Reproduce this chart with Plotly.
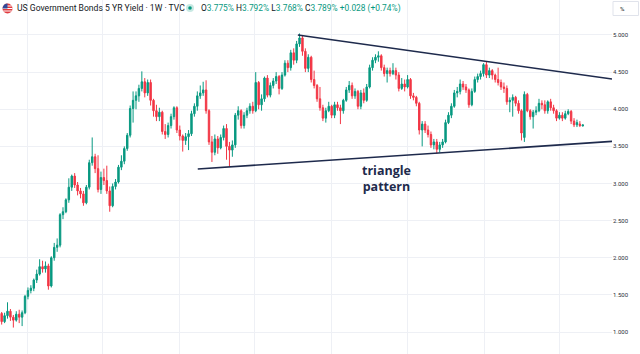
import plotly.graph_objects as go
import pandas as pd

# ---------------- data (weekly candles, US 5Y yield, %) ----------------
start_week = "2021-11-01"
n_weeks = 200

opens = [1.25, 1.14, 1.22, 1.28, 1.20, 1.16, 1.24, 1.20, 1.26, 1.48,
         1.56, 1.59, 1.70, 1.78, 1.88, 1.85, 1.89, 1.62, 2.00, 2.14,
         2.17, 2.58, 2.62, 2.78, 2.95, 3.10, 2.98, 2.90, 2.86, 2.74,
         2.95, 3.28, 3.36, 3.20, 2.92, 3.08, 3.04, 2.90, 2.70, 2.96,
         3.02, 3.22, 3.30, 3.47, 3.65, 4.01, 4.12, 4.18, 4.28, 4.37,
         4.22, 4.36, 4.12, 3.98, 3.90, 3.96, 3.70, 3.66, 3.78, 3.90,
         4.02, 3.72, 3.64, 3.58, 3.63, 3.67, 3.94, 4.04, 4.18, 4.22,
         4.26, 3.98, 3.56, 3.42, 3.60, 3.48, 3.62, 3.74, 3.50, 3.45,
         3.52, 3.92, 3.98, 3.78, 3.92, 3.98, 4.04, 3.98, 4.36, 4.06,
         4.14, 4.42, 4.19, 4.32, 4.38, 4.44, 4.28, 4.46, 4.62, 4.56,
         4.76, 4.66, 4.88, 4.96, 4.78, 4.55, 4.70, 4.40, 4.32, 4.14,
         4.02, 3.88, 3.98, 4.04, 3.92, 4.06, 4.02, 3.98, 4.12, 4.26,
         4.32, 4.18, 4.24, 4.04, 4.22, 4.12, 4.30, 4.56, 4.66, 4.70,
         4.72, 4.56, 4.48, 4.52, 4.48, 4.52, 4.46, 4.28, 4.34, 4.30,
         4.40, 4.18, 4.16, 4.08, 3.72, 3.80, 3.72, 3.66, 3.52, 3.56,
         3.46, 3.52, 3.56, 3.82, 3.92, 4.04, 4.22, 4.24, 4.34, 4.30,
         4.26, 4.06, 4.24, 4.40, 4.44, 4.48, 4.60, 4.46, 4.52, 4.46,
         4.40, 4.36, 4.30, 4.28, 4.10, 4.12, 4.16, 4.08, 3.98, 3.62,
         4.20, 3.98, 3.90, 3.96, 3.98, 4.08, 4.06, 3.98, 4.10, 4.02,
         3.98, 3.88, 3.92, 3.88, 3.94, 3.97, 3.84, 3.79, 3.80, 3.775]

highs = [1.27, 1.26, 1.40, 1.31, 1.23, 1.28, 1.30, 1.29, 1.50, 1.60,
         1.63, 1.72, 1.84, 1.98, 1.96, 1.95, 1.92, 2.02, 2.20, 2.26,
         2.60, 2.68, 2.80, 3.07, 3.12, 3.14, 3.02, 2.94, 2.90, 2.98,
         3.32, 3.62, 3.40, 3.38, 3.16, 3.20, 3.24, 2.96, 3.00, 3.06,
         3.25, 3.38, 3.50, 3.68, 4.05, 4.24, 4.24, 4.33, 4.51, 4.42,
         4.40, 4.40, 4.14, 4.06, 4.02, 3.98, 3.80, 3.82, 3.94, 4.04,
         4.04, 3.78, 3.66, 3.68, 3.72, 3.98, 4.08, 4.24, 4.32, 4.37,
         4.39, 4.00, 3.64, 3.66, 3.64, 3.66, 3.78, 3.80, 3.56, 3.58,
         3.95, 4.04, 4.00, 3.96, 4.02, 4.08, 4.10, 4.50, 4.38, 4.20,
         4.44, 4.46, 4.36, 4.42, 4.50, 4.46, 4.50, 4.66, 4.66, 4.80,
         4.82, 4.92, 5.02, 4.99, 4.82, 4.74, 4.72, 4.52, 4.34, 4.30,
         4.06, 4.02, 4.10, 4.06, 4.10, 4.10, 4.06, 4.14, 4.30, 4.38,
         4.36, 4.28, 4.26, 4.26, 4.28, 4.34, 4.60, 4.70, 4.74, 4.78,
         4.74, 4.60, 4.56, 4.56, 4.62, 4.56, 4.50, 4.42, 4.40, 4.46,
         4.42, 4.22, 4.18, 4.10, 3.84, 3.84, 3.78, 3.70, 3.60, 3.60,
         3.56, 3.60, 3.86, 3.96, 4.08, 4.26, 4.30, 4.40, 4.38, 4.34,
         4.28, 4.28, 4.44, 4.48, 4.52, 4.62, 4.64, 4.56, 4.54, 4.48,
         4.56, 4.40, 4.36, 4.32, 4.16, 4.20, 4.18, 4.12, 4.00, 4.24,
         4.22, 4.00, 3.99, 4.04, 4.14, 4.12, 4.12, 4.12, 4.14, 4.06,
         4.00, 3.96, 3.96, 3.98, 4.00, 3.99, 3.88, 3.86, 3.84, 3.792]

lows = [1.10, 1.12, 1.18, 1.15, 1.06, 1.14, 1.12, 1.08, 1.24, 1.44,
        1.52, 1.55, 1.66, 1.76, 1.80, 1.80, 1.57, 1.60, 1.96, 2.08,
        2.14, 2.52, 2.60, 2.74, 2.90, 2.94, 2.84, 2.80, 2.70, 2.72,
        2.92, 3.24, 3.14, 2.88, 2.86, 2.98, 2.86, 2.62, 2.68, 2.92,
        3.00, 3.18, 3.26, 3.44, 3.62, 3.82, 4.00, 4.10, 4.24, 4.16,
        4.18, 4.05, 3.90, 3.84, 3.84, 3.66, 3.60, 3.62, 3.74, 3.86,
        3.68, 3.58, 3.43, 3.52, 3.45, 3.64, 3.90, 3.98, 4.14, 4.18,
        3.94, 3.52, 3.29, 3.38, 3.40, 3.46, 3.58, 3.32, 3.23, 3.36,
        3.48, 3.86, 3.74, 3.74, 3.88, 3.94, 3.94, 3.96, 4.00, 3.98,
        4.10, 4.16, 4.16, 4.28, 4.34, 4.20, 4.26, 4.44, 4.50, 4.52,
        4.60, 4.62, 4.84, 4.72, 4.50, 4.50, 4.36, 4.28, 4.10, 3.98,
        3.84, 3.82, 3.96, 3.88, 3.88, 3.98, 3.80, 3.94, 4.10, 4.22,
        4.14, 4.14, 4.00, 4.00, 4.08, 4.10, 4.28, 4.52, 4.62, 4.64,
        4.52, 4.44, 4.36, 4.44, 4.46, 4.40, 4.24, 4.26, 4.24, 4.28,
        4.14, 4.12, 4.04, 3.66, 3.50, 3.68, 3.62, 3.48, 3.46, 3.40,
        3.42, 3.48, 3.54, 3.80, 3.88, 4.02, 4.16, 4.20, 4.26, 4.22,
        4.02, 4.04, 4.22, 4.36, 4.40, 4.44, 4.42, 4.42, 4.40, 4.36,
        4.32, 4.26, 4.22, 4.06, 3.96, 3.90, 4.04, 3.94, 3.58, 3.56,
        3.96, 3.86, 3.74, 3.92, 3.96, 4.00, 3.94, 3.94, 3.98, 3.94,
        3.84, 3.86, 3.84, 3.86, 3.92, 3.80, 3.76, 3.76, 3.76, 3.768]

closes = [1.14, 1.22, 1.28, 1.20, 1.16, 1.24, 1.20, 1.26, 1.48, 1.56,
          1.59, 1.70, 1.78, 1.88, 1.85, 1.89, 1.62, 2.00, 2.14, 2.17,
          2.58, 2.62, 2.78, 2.95, 3.10, 2.98, 2.90, 2.86, 2.74, 2.95,
          3.28, 3.36, 3.20, 2.92, 3.08, 3.04, 2.90, 2.70, 2.96, 3.02,
          3.22, 3.30, 3.47, 3.65, 4.01, 4.12, 4.18, 4.28, 4.37, 4.22,
          4.36, 4.12, 3.98, 3.90, 3.96, 3.70, 3.66, 3.78, 3.90, 4.02,
          3.72, 3.64, 3.58, 3.63, 3.67, 3.94, 4.04, 4.18, 4.22, 4.26,
          3.98, 3.56, 3.42, 3.60, 3.48, 3.62, 3.74, 3.50, 3.45, 3.52,
          3.92, 3.98, 3.78, 3.92, 3.98, 4.04, 3.98, 4.36, 4.06, 4.14,
          4.42, 4.19, 4.32, 4.38, 4.44, 4.28, 4.46, 4.62, 4.56, 4.76,
          4.66, 4.88, 4.96, 4.78, 4.55, 4.70, 4.40, 4.32, 4.14, 4.02,
          3.88, 3.98, 4.04, 3.92, 4.06, 4.02, 3.98, 4.12, 4.26, 4.32,
          4.18, 4.24, 4.04, 4.22, 4.12, 4.30, 4.56, 4.66, 4.70, 4.72,
          4.56, 4.48, 4.52, 4.48, 4.52, 4.46, 4.28, 4.34, 4.30, 4.40,
          4.18, 4.16, 4.08, 3.72, 3.80, 3.72, 3.66, 3.52, 3.56, 3.46,
          3.52, 3.56, 3.82, 3.92, 4.04, 4.22, 4.24, 4.34, 4.30, 4.26,
          4.06, 4.24, 4.40, 4.44, 4.48, 4.60, 4.46, 4.52, 4.46, 4.40,
          4.36, 4.30, 4.28, 4.10, 4.12, 4.16, 4.08, 3.98, 3.68, 4.20,
          3.98, 3.90, 3.96, 3.98, 4.08, 4.06, 3.98, 4.10, 4.02, 3.98,
          3.88, 3.92, 3.88, 3.94, 3.97, 3.84, 3.79, 3.82, 3.78, 3.789]

# triangle trend lines (date, yield %)
upper_dates = ["2023-10-12", "2025-11-03"]
upper_vals = [5.00, 4.407]
lower_dates = ["2023-02-14", "2025-11-03"]
lower_vals = [3.195, 3.567]

y_ticks = [1.0, 1.5, 2.0, 2.5, 3.0, 3.5, 4.0, 4.5, 5.0]
x_grid_dates = ["2022-01-01", "2022-07-01", "2023-01-01", "2023-07-01",
                "2024-01-01", "2024-07-01", "2025-01-01", "2025-07-01"]

title_text = "US Government Bonds 5 YR Yield · 1W · TVC"
ohlc_parts = [("O", "3.775%"), ("H", "3.792%"), ("L", "3.768%"), ("C", "3.789%")]
change_text = "+0.028 (+0.74%)"
pattern_label = "triangle<br>pattern"

# ---------------- figure ----------------
W, H = 640, 354
PLOT_W = 612
UP, DOWN = "#089981", "#F23645"
NAVY = "#1e2a4c"

dates = pd.date_range(start_week, periods=n_weeks, freq="7D")


def px(x, y):
    return x / PLOT_W, 1 - y / H


fig = go.Figure()
fig.add_trace(go.Candlestick(
    x=dates, open=opens, high=highs, low=lows, close=closes,
    increasing=dict(line=dict(color=UP, width=1), fillcolor=UP),
    decreasing=dict(line=dict(color=DOWN, width=1), fillcolor=DOWN),
    whiskerwidth=0, showlegend=False, hoverinfo="skip",
))
for dts, vals in ((upper_dates, upper_vals), (lower_dates, lower_vals)):
    fig.add_trace(go.Scatter(x=dts, y=vals, mode="lines",
                             line=dict(color=NAVY, width=1.6),
                             showlegend=False, hoverinfo="skip"))

shapes = []
# flag icon
fx0, fy0 = px(2.5, 13.5)
fx1, fy1 = px(12.5, 3.5)
shapes.append(dict(type="circle", xref="paper", yref="paper", x0=fx0, y0=fy0,
                   x1=fx1, y1=fy1, fillcolor="#e03a3e", line=dict(width=0)))
for sy, half in ((6.0, 4.3), (8.5, 5.0), (11.0, 4.3)):
    a = px(7.5 - half, sy)
    b = px(7.5 + half, sy)
    shapes.append(dict(type="line", xref="paper", yref="paper", x0=a[0], y0=a[1],
                       x1=b[0], y1=b[1], line=dict(color="white", width=1)))
pts = [px(7.5, 8.5), px(2.6, 8.5), px(3.2, 6.0), px(4.6, 4.4), px(6.0, 3.7), px(7.5, 3.5)]
path = "M " + " L ".join(f"{p[0]},{p[1]}" for p in pts) + " Z"
shapes.append(dict(type="path", xref="paper", yref="paper", path=path,
                   fillcolor="#2f4a9a", line=dict(width=0)))
# green status dot
gx0, gy0 = px(186, 12)
gx1, gy1 = px(194, 4)
shapes.append(dict(type="circle", xref="paper", yref="paper", x0=gx0, y0=gy0,
                   x1=gx1, y1=gy1, fillcolor="rgba(8,153,129,0.22)", line=dict(width=0)))
gx0, gy0 = px(188.2, 9.8)
gx1, gy1 = px(191.8, 6.2)
shapes.append(dict(type="circle", xref="paper", yref="paper", x0=gx0, y0=gy0,
                   x1=gx1, y1=gy1, fillcolor=UP, line=dict(width=0)))
# % box top-right
bx0, by0 = px(613, 15.5)
bx1, by1 = px(638.5, 1.5)
shapes.append(dict(type="rect", xref="paper", yref="paper", x0=bx0, y0=by0,
                   x1=bx1, y1=by1, fillcolor="white", line=dict(color="#e0e3eb", width=1)))

annotations = []
tx, ty = px(15, 8.5)
annotations.append(dict(xref="paper", yref="paper", x=tx, y=ty, xanchor="left",
                        yanchor="middle", showarrow=False, text=title_text,
                        font=dict(family="Roboto", size=8.6, color="#131722")))
ohlc_html = " ".join(f"{k}<span style='color:{UP}'>{v}</span>" for k, v in ohlc_parts)
ohlc_html += f" <span style='color:{UP}'>{change_text}</span>"
ox, oy = px(199, 8.5)
annotations.append(dict(xref="paper", yref="paper", x=ox, y=oy, xanchor="left",
                        yanchor="middle", showarrow=False, text=ohlc_html,
                        font=dict(family="Roboto", size=8.4, color="#131722")))
qx, qy = px(618, 8.5)
annotations.append(dict(xref="paper", yref="paper", x=qx, y=qy, xanchor="left",
                        yanchor="middle", showarrow=False, text="%",
                        font=dict(family="Roboto", size=6, color="#131722")))
lx, ly = px(386, 179)
annotations.append(dict(xref="paper", yref="paper", x=lx, y=ly, xanchor="center",
                        yanchor="middle", showarrow=False, text=pattern_label,
                        font=dict(family="Open Sans", size=12.5, color=NAVY, weight=700)))

fig.update_layout(
    width=W, height=H,
    margin=dict(l=0, r=W - PLOT_W, t=0, b=0),
    paper_bgcolor="white", plot_bgcolor="white",
    shapes=shapes, annotations=annotations,
    xaxis=dict(type="date", range=["2021-10-28", "2025-11-03"],
               rangeslider=dict(visible=False),
               tickvals=x_grid_dates, showticklabels=False, ticks="",
               showgrid=True, gridcolor="#eef0f5", gridwidth=1,
               zeroline=False, showline=False),
    yaxis=dict(side="right", range=[0.704, 5.471], tickvals=y_ticks,
               tickformat=".3f", ticksuffix="%", ticks="",
               tickfont=dict(family="Roboto", size=6, color="#2a2e39"),
               showgrid=True, gridcolor="#eef0f5", gridwidth=1,
               zeroline=False, showline=False),
)

fig.write_html("out.html")
